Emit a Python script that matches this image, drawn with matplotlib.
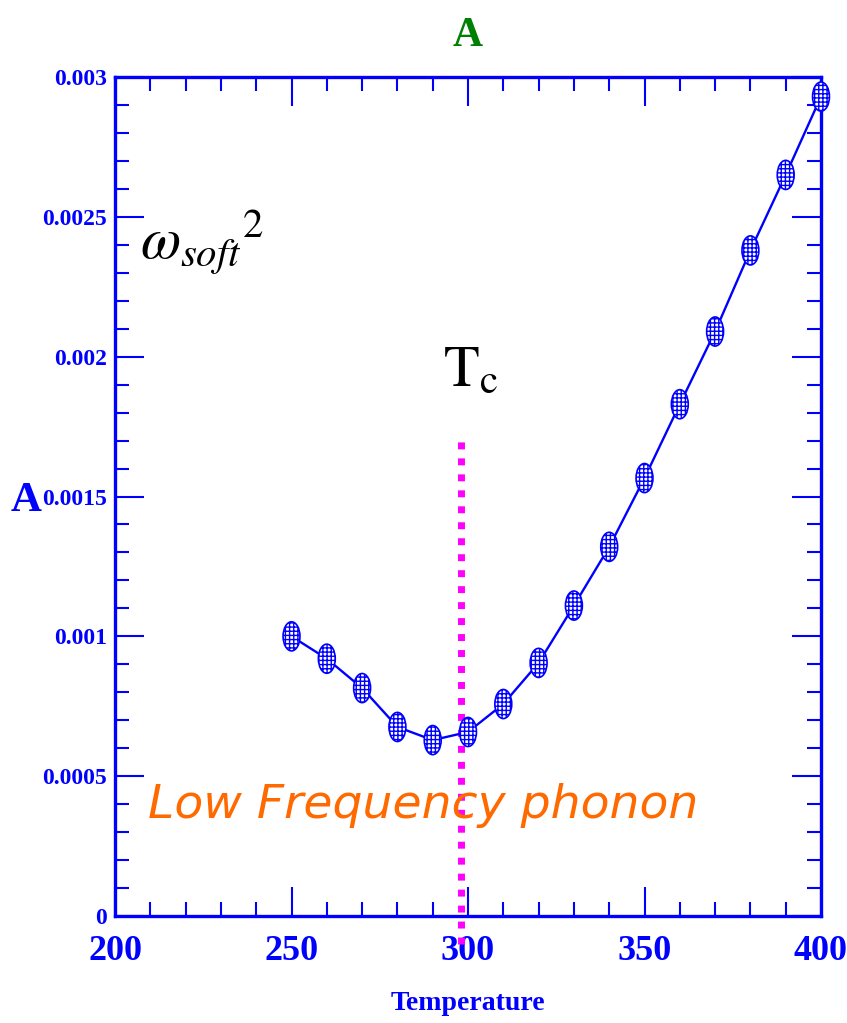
import matplotlib
matplotlib.use('Agg')
import matplotlib.pyplot as plt
from matplotlib.path import Path
import numpy as np


## Data
temperature = [250, 260, 270, 280, 290, 300, 310, 320, 330, 340, 350, 360, 370, 380, 390, 400]
omega_sq = [0.00100, 0.00092, 0.000815, 0.000676, 0.000629, 0.000658, 0.000758, 0.000905,
            0.00111, 0.00132, 0.001566, 0.00183, 0.00209, 0.00238, 0.00265, 0.00293]
tc = 298
tc_line = [-0.0001, 0.0017]

xticks = [200, 250, 300, 350, 400]
yticks = [0, 0.0005, 0.001, 0.0015, 0.002, 0.0025, 0.003]
ytick_labels = ['0', '0.0005', '0.001', '0.0015', '0.002', '0.0025', '0.003']

blue = '#0000ff'
plt.rcParams['mathtext.fontset'] = 'stix'
plt.rcParams['hatch.linewidth'] = 1.0
plt.rcParams['hatch.color'] = blue

fig = plt.figure(figsize=(8.47, 10.23), dpi=100)
ax = fig.add_axes([0.1358, 0.1046, 0.8335, 0.8201])

## ellipse marker
circ = Path.unit_circle()
ellipse = Path(circ.vertices * np.array([0.58, 1.0]), circ.codes)

ax.plot(temperature, omega_sq, color=blue, lw=1.7, zorder=3)
ax.scatter(temperature, omega_sq, marker=ellipse, s=440, facecolor='white',
           edgecolor=blue, hatch='++++', linewidths=1.2, zorder=4, clip_on=False)

## Tc line
ax.plot([tc, tc], tc_line, color='#ff00ff', lw=5, linestyle=(0, (1, 1.3)),
        dash_capstyle='butt', clip_on=False, zorder=2)

## axes
ax.set_xlim(200, 400)
ax.set_ylim(0, 0.003)
ax.set_xticks(xticks)
ax.set_xticks(np.arange(200, 401, 10), minor=True)
ax.set_yticks(yticks)
ax.set_yticklabels(ytick_labels)
ax.set_yticks(np.arange(0, 0.00301, 0.0001), minor=True)
ax.tick_params(which='both', direction='in', top=True, right=True, color=blue,
               width=1.5, labelcolor=blue)
ax.tick_params(which='major', length=21)
ax.tick_params(which='minor', length=10)
ax.tick_params(axis='x', pad=14)
ax.tick_params(axis='y', pad=6)
for lab in ax.get_xticklabels():
    lab.set_fontfamily('Liberation Serif')
    lab.set_fontsize(26)
    lab.set_fontweight('bold')
for lab in ax.get_yticklabels():
    lab.set_fontfamily('Liberation Serif')
    lab.set_fontsize(17)
    lab.set_fontweight('bold')
for sp in ax.spines.values():
    sp.set_color(blue)
    sp.set_linewidth(2.4)

ax.set_xlabel('Temperature', fontsize=20, color=blue, family='Liberation Serif',
              fontweight='bold', labelpad=16)
fig.text(0.031, 0.51, 'A', fontsize=31, color=blue, family='Liberation Serif',
         fontweight='bold', ha='center', va='center')
ax.set_title('A', fontsize=30, color='#008000', family='Liberation Serif',
             fontweight='bold', pad=22)

## annotations
ax.text(0.035, 0.783, r'$\omega_{soft}{}^{2}$', transform=ax.transAxes,
        fontsize=42, color='black')
ax.text(0.465, 0.632, r'$\mathrm{T_c}$', transform=ax.transAxes,
        fontsize=42, color='black')
ax.text(0.047, 0.117, 'Low Frequency phonon', transform=ax.transAxes,
        fontsize=34, color='#ff6a00', family='DejaVu Sans', style='italic',
        zorder=5)

fig.savefig('out.png', dpi=100)
